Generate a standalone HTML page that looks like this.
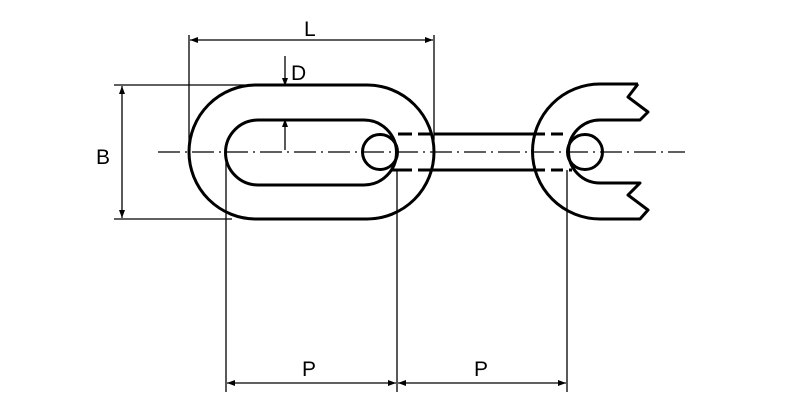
<!DOCTYPE html>
<html><head><style>html,body{margin:0;padding:0;background:#fff;}svg{display:block}</style></head>
<body>
<svg width="800" height="400" viewBox="0 0 800 400" xmlns="http://www.w3.org/2000/svg" font-family="Liberation Sans, sans-serif">
<defs>
<marker id="a" markerWidth="8" markerHeight="6" refX="8" refY="3" orient="auto-start-reverse" markerUnits="userSpaceOnUse"><path d="M0,0 L8,3 L0,6 z" fill="#000"/></marker>
</defs>
<g stroke="#000" fill="none">
<line x1="158" y1="152" x2="685" y2="152" stroke-width="1.2" stroke-dasharray="22,5,2,5"/>
<path d="M256,85 H367 A67,67 0 0 1 367,219 H256 A67,67 0 0 1 256,85 Z" stroke-width="3"/>
<path d="M258,120 H364 A32.5,32.5 0 0 1 364,185 H258 A32.5,32.5 0 0 1 258,120 Z" stroke-width="3"/>
<circle cx="380" cy="152" r="17.5" stroke-width="3"/>
<line x1="434" y1="134" x2="533" y2="134" stroke-width="3"/>
<line x1="434" y1="170" x2="533" y2="170" stroke-width="3"/>
<line x1="398" y1="134" x2="434" y2="134" stroke-width="3" stroke-dasharray="14,6"/>
<line x1="392" y1="170" x2="434" y2="170" stroke-width="3" stroke-dasharray="20,6"/>
<line x1="533" y1="134" x2="565" y2="134" stroke-width="3" stroke-dasharray="12,6"/>
<line x1="533" y1="170" x2="572" y2="170" stroke-width="3" stroke-dasharray="12,6"/>
<path d="M638,84 H600 A67.5,67.5 0 0 0 600,219 H640 L648,210 L628,195 L640,183 H600 A31.5,31.5 0 0 1 600,120 H640 L648,112 L628,97 L638,84" stroke-width="3" stroke-linejoin="round"/>
<circle cx="585" cy="152" r="17.5" stroke-width="3"/>
<g stroke-width="1.3">
<line x1="189" y1="35" x2="189" y2="152"/>
<line x1="434" y1="35" x2="434" y2="140"/>
<line x1="190" y1="40" x2="433" y2="40" marker-start="url(#a)" marker-end="url(#a)"/>
<line x1="114" y1="85" x2="245" y2="85"/>
<line x1="114" y1="219" x2="232" y2="219"/>
<line x1="122" y1="86" x2="122" y2="218" marker-start="url(#a)" marker-end="url(#a)"/>
<line x1="285" y1="56" x2="285" y2="86" marker-end="url(#a)"/>
<line x1="285" y1="150" x2="285" y2="119" marker-end="url(#a)"/>
<line x1="226" y1="152" x2="226" y2="392"/>
<line x1="397" y1="170" x2="397" y2="392"/>
<line x1="567" y1="170" x2="567" y2="392"/>
<line x1="227" y1="383" x2="396" y2="383" marker-start="url(#a)" marker-end="url(#a)"/>
<line x1="398" y1="383" x2="566" y2="383" marker-start="url(#a)" marker-end="url(#a)"/>
</g>
</g>
<g font-size="21" fill="#000">
<text x="304" y="36">L</text>
<text x="291" y="80">D</text>
<text x="96" y="164">B</text>
<text x="302" y="376">P</text>
<text x="474" y="376">P</text>
</g>
</svg>
</body></html>
